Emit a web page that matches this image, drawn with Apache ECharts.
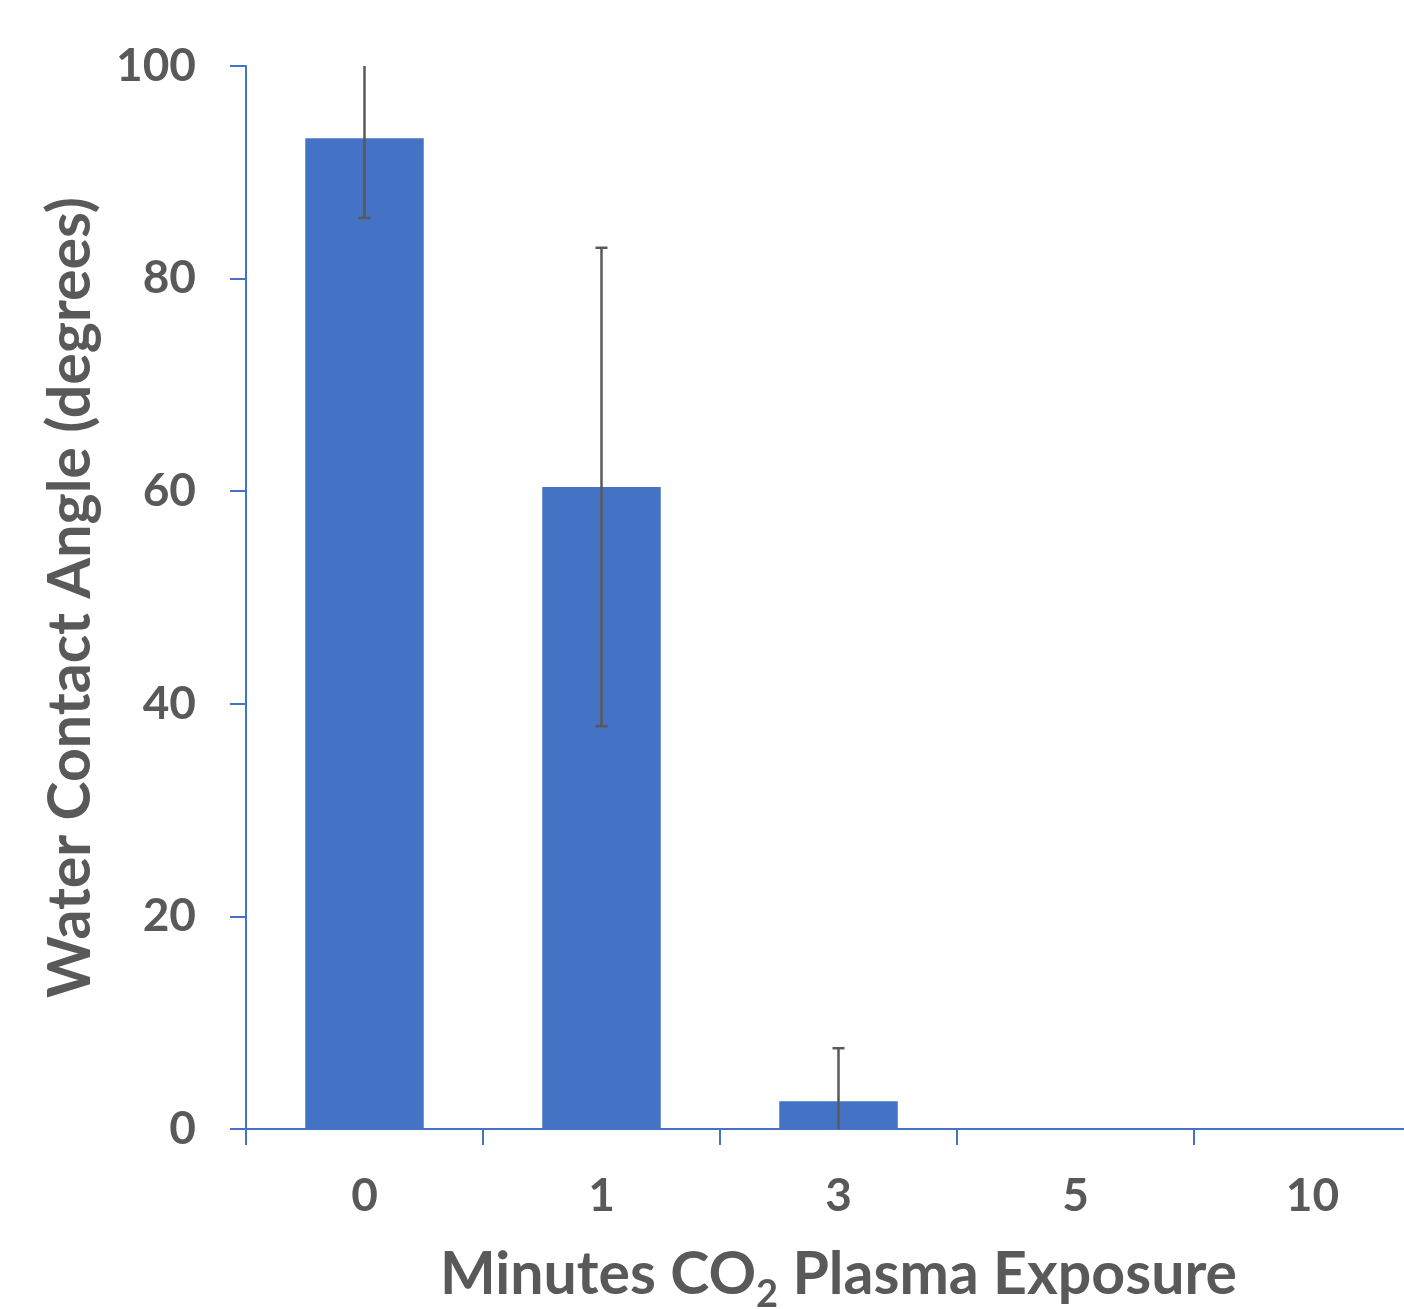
<!DOCTYPE html>
<html>
<head>
<meta charset="utf-8">
<script src="https://cdn.jsdelivr.net/npm/echarts@6/dist/echarts.min.js"></script>
<style>
html,body{margin:0;padding:0;background:#fff;}
#chart{width:1404px;height:1309px;}
</style>
</head>
<body>
<div id="chart"></div>
<script>
const categories = ['0', '1', '3', '5', '10'];
const contactAngle = [93.2, 60.4, 2.6, 0, 0];
const errorPlusMinus = [7.5, 22.5, 5.0, 0, 0];
const yTicks = [0, 20, 40, 60, 80, 100];

const FONT = 'Lato';
const TEXT = '#595959';
const BLUE = '#4472C4';
const Y_MIN = yTicks[0], Y_MAX = yTicks[yTicks.length - 1];

const errData = categories.map((c, i) => [i, contactAngle[i] - errorPlusMinus[i], contactAngle[i] + errorPlusMinus[i]]).filter((d, i) => errorPlusMinus[i] > 0);

const chart = echarts.init(document.getElementById('chart'));
chart.setOption({
  animation: false,
  grid: { left: 246, top: 66, width: 1185, bottom: 180, containLabel: false, outerBoundsMode: 'none' },
  xAxis: {
    type: 'category',
    data: categories,
    name: 'Minutes CO{sub|2} Plasma Exposure',
    nameLocation: 'middle',
    nameGap: 107,
    nameTextStyle: {
      fontFamily: FONT, fontWeight: 'bold', fontSize: 59, color: TEXT,
      rich: { sub: { fontFamily: FONT, fontWeight: 'bold', fontSize: 38, color: TEXT, padding: [40, 0, 0, 0] } }
    },
    axisLine: { lineStyle: { color: BLUE, width: 2 } },
    axisTick: { show: true, length: 16, lineStyle: { color: BLUE, width: 2 } },
    axisLabel: { fontFamily: FONT, fontWeight: 'bold', fontSize: 46, color: TEXT, margin: 44 },
    splitLine: { show: false }
  },
  yAxis: {
    type: 'value',
    min: Y_MIN, max: Y_MAX, interval: 20,
    name: 'Water Contact Angle (degrees)',
    nameLocation: 'middle',
    nameGap: 146,
    nameTextStyle: { fontFamily: FONT, fontWeight: 'bold', fontSize: 59, color: TEXT },
    axisLine: { show: true, lineStyle: { color: BLUE, width: 2 } },
    axisTick: { show: true, length: 16, lineStyle: { color: BLUE, width: 2 } },
    axisLabel: { fontFamily: FONT, fontWeight: 'bold', fontSize: 46, color: TEXT, margin: 50 },
    splitLine: { show: false }
  },
  series: [
    {
      type: 'bar',
      data: contactAngle,
      barWidth: '50%',
      itemStyle: { color: BLUE }
    },
    {
      type: 'custom',
      data: errData,
      z: 10,
      renderItem: function (params, api) {
        const x = api.value(0);
        const lo = api.value(1), hi = api.value(2);
        const loC = Math.max(lo, Y_MIN), hiC = Math.min(hi, Y_MAX);
        const pLo = api.coord([x, loC]);
        const pHi = api.coord([x, hiC]);
        const cap = 6;
        const style = { stroke: '#595959', lineWidth: 2.5 };
        const children = [{ type: 'line', shape: { x1: pLo[0], y1: pLo[1], x2: pHi[0], y2: pHi[1] }, style: style }];
        if (hi <= Y_MAX) children.push({ type: 'line', shape: { x1: pHi[0] - cap, y1: pHi[1], x2: pHi[0] + cap, y2: pHi[1] }, style: style });
        if (lo >= Y_MIN) children.push({ type: 'line', shape: { x1: pLo[0] - cap, y1: pLo[1], x2: pLo[0] + cap, y2: pLo[1] }, style: style });
        return { type: 'group', children: children };
      }
    }
  ]
});
</script>
</body>
</html>
